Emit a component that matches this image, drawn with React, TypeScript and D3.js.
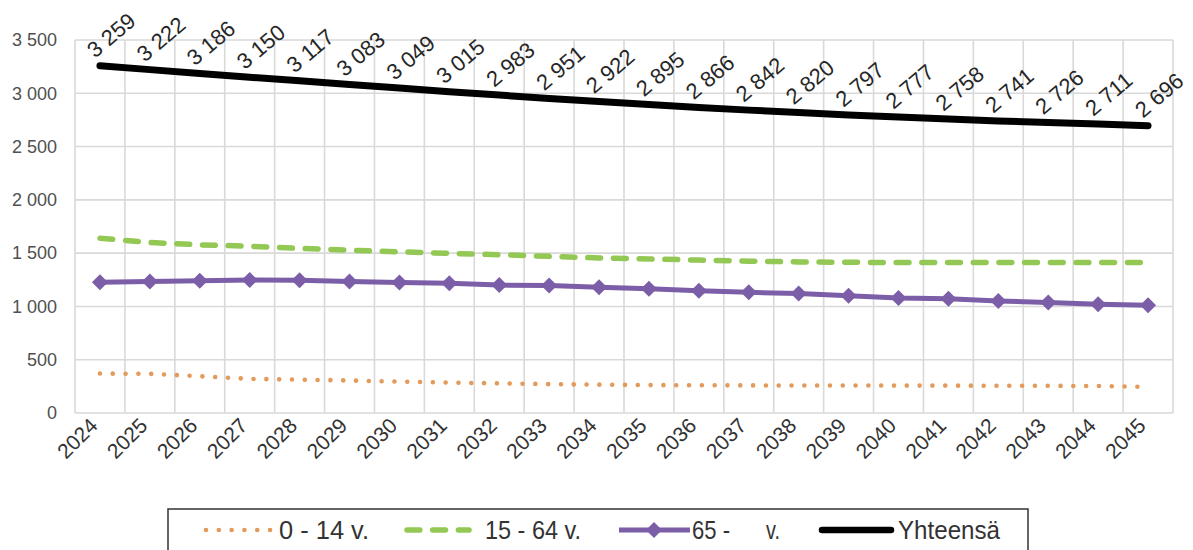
import React from 'react';
import * as d3 from 'd3';

const years = ['2024','2025','2026','2027','2028','2029','2030','2031','2032','2033','2034','2035','2036','2037','2038','2039','2040','2041','2042','2043','2044','2045'];
const total = [3259,3222,3186,3150,3117,3083,3049,3015,2983,2951,2922,2895,2866,2842,2820,2797,2777,2758,2741,2726,2711,2696];
const age15_64 = [1640,1600,1578,1565,1545,1528,1512,1498,1485,1470,1455,1445,1435,1425,1418,1414,1412,1412,1412,1412,1412,1412];
const age65 = [1228,1234,1242,1248,1246,1235,1225,1218,1200,1196,1180,1166,1148,1132,1122,1100,1080,1072,1052,1038,1020,1012];
const age0_14 = [370,368,345,320,313,305,294,285,278,271,266,262,260,259,258,258,257,257,256,255,253,244];
const yTicks = [0,500,1000,1500,2000,2500,3000,3500];

const W = 1193, H = 550;
const left = 75, right = 1173, top = 40, bottom = 413;
const FONT = 'Liberation Sans, Arial, sans-serif';

const fmt = d3.formatLocale({ thousands: ' ', grouping: [3], decimal: ',', currency: ['', ''] }).format(',d');

export default function App() {
  const x = d3.scaleBand<string>().domain(years).range([left, right]).padding(0);
  const y = d3.scaleLinear().domain([0, 3500]).range([bottom, top]);
  const cx = (yr: string) => (x(yr) as number) + x.bandwidth() / 2;
  const line = d3.line<number>().x((_, i) => cx(years[i])).y(d => y(d));
  const diamond = 'M0,-8L8,0L0,8L-8,0Z';
  const legendY = 530;

  return (
    <svg width={W} height={H} style={{ position: 'absolute', left: 0, top: 0, background: '#fff' }} fontFamily={FONT}>
      {/* grid */}
      <g stroke="#d9d9d9" strokeWidth={1.6}>
        {yTicks.map(t => <line key={'h' + t} x1={left} x2={right} y1={y(t)} y2={y(t)} />)}
        {years.map(yr => <line key={'v' + yr} x1={x(yr)} x2={x(yr)} y1={top} y2={bottom} />)}
        <line x1={right} x2={right} y1={top} y2={bottom} />
      </g>
      {/* y ticks */}
      <g fill="#505050" fontSize={18} textAnchor="end">
        {yTicks.map(t => <text key={'yt' + t} x={57} y={y(t)} dy="0.35em">{fmt(t)}</text>)}
      </g>
      {/* x ticks */}
      <g fill="#333" fontSize={21} textAnchor="end">
        {years.map(yr => (
          <text key={'xt' + yr} transform={`translate(${cx(yr) - 1},${bottom + 14}) rotate(-45)`}>{yr}</text>
        ))}
      </g>
      {/* series */}
      <path d={line(age0_14) || ''} fill="none" stroke="#e39a5b" strokeWidth={4.6} strokeLinecap="round" strokeDasharray="0.01 12.8" />
      <path d={line(age15_64) || ''} fill="none" stroke="#92c853" strokeWidth={5.5} strokeLinecap="round" strokeDasharray="12.8 12.9" />
      <path d={line(age65) || ''} fill="none" stroke="#7b5ea7" strokeWidth={5} strokeLinejoin="round" />
      {age65.map((v, i) => (
        <path key={'d' + i} d={diamond} transform={`translate(${cx(years[i])},${y(v)})`} fill="#7b5ea7" />
      ))}
      <path d={line(total) || ''} fill="none" stroke="#000" strokeWidth={7} strokeLinecap="round" strokeLinejoin="round" />
      {/* data labels */}
      <g fill="#262626" fontSize={22}>
        {total.map((v, i) => (
          <text key={'l' + i} transform={`translate(${cx(years[i]) - 5},${y(v) - 7}) rotate(-40)`}>{fmt(v)}</text>
        ))}
      </g>
      {/* legend */}
      <rect x={168} y={509} width={860} height={60} fill="#fff" stroke="#333" strokeWidth={1.5} />
      <g fontSize={26} fill="#333">
        <line x1={206} x2={273} y1={legendY} y2={legendY} stroke="#e39a5b" strokeWidth={4.6} strokeLinecap="round" strokeDasharray="0.01 12.8" />
        <text x={279} y={legendY} dy="0.36em" textLength={90} lengthAdjust="spacingAndGlyphs">0 - 14 v.</text>
        <line x1={407} x2={469} y1={legendY} y2={legendY} stroke="#92c853" strokeWidth={5.5} strokeLinecap="round" strokeDasharray="12.8 12.9" />
        <text x={485} y={legendY} dy="0.36em" textLength={96} lengthAdjust="spacingAndGlyphs">15 - 64 v.</text>
        <line x1={619} x2={690} y1={legendY} y2={legendY} stroke="#7b5ea7" strokeWidth={5} />
        <path d={diamond} transform={`translate(654,${legendY})`} fill="#7b5ea7" />
        <text x={692} y={legendY} dy="0.36em" textLength={38} lengthAdjust="spacingAndGlyphs">65 -</text>
        <text x={766} y={legendY} dy="0.36em" textLength={14} lengthAdjust="spacingAndGlyphs">v.</text>
        <line x1={822} x2={891} y1={legendY} y2={legendY} stroke="#000" strokeWidth={6.5} strokeLinecap="round" />
        <text x={898} y={legendY} dy="0.36em" textLength={102} lengthAdjust="spacingAndGlyphs">Yhteensä</text>
      </g>
    </svg>
  );
}
